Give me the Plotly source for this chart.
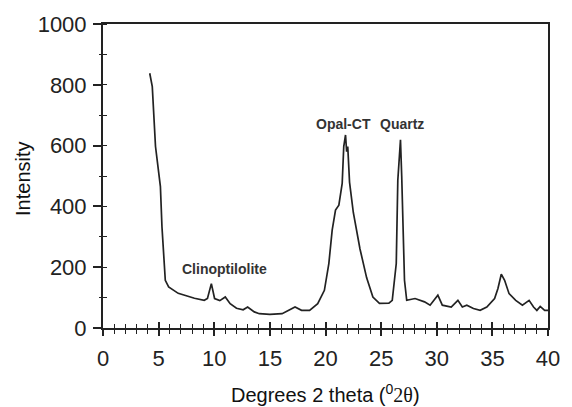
import plotly.graph_objects as go

theta = [4.2, 4.43, 4.72, 5.16, 5.3, 5.45, 5.6, 5.9, 6.76, 8.22, 9.1, 9.39, 9.74, 10.03,
         10.5, 10.99, 11.43, 12.0, 12.6, 13.0, 13.6, 14.05, 15.0, 16.1, 16.8, 17.26, 17.85,
         18.57, 19.3, 19.9, 20.3, 20.6, 20.9, 21.2, 21.5, 21.64, 21.8, 21.9, 22.0, 22.16,
         22.5, 23.1, 23.7, 24.26, 24.85, 25.7, 26.0, 26.36, 26.5, 26.6, 26.74, 26.85, 26.95,
         27.1, 27.3, 28.05, 28.9, 29.4, 30.1, 30.5, 31.3, 31.9, 32.3, 32.7, 33.3, 33.9,
         34.5, 35.2, 35.5, 35.8, 36.1, 36.5, 37.1, 37.7, 38.3, 38.7, 39.0, 39.3, 39.7, 40.0]
intensity = [838, 794, 597, 465, 333, 223, 157, 135, 114, 98, 91, 97, 146, 97,
             90, 102, 80, 65, 60, 69, 53, 47, 45, 47, 60, 69, 58,
             58, 80, 124, 212, 322, 388, 404, 476, 597, 635, 580, 597, 480,
             380, 260, 165, 102, 81, 82, 91, 212, 486, 560, 619, 500, 333,
             157, 91, 97, 86, 75, 108, 75, 69, 91, 69, 75, 64, 58,
             69, 97, 130, 177, 157, 113, 91, 75, 91, 69, 58, 71, 58, 58]

peak_labels = ["Clinoptilolite", "Opal-CT", "Quartz"]
peak_x = [10.9, 21.6, 26.9]
peak_y = [193, 671, 671]

x_ticks = [0, 5, 10, 15, 20, 25, 30, 35, 40]
y_ticks = [0, 200, 400, 600, 800, 1000]

ink = "#222222"
tick_font = dict(family="Liberation Sans, Arial, sans-serif", size=22, color=ink)

fig = go.Figure()
fig.add_trace(go.Scatter(x=theta, y=intensity, mode="lines",
                         line=dict(color=ink, width=1.7), showlegend=False,
                         hoverinfo="skip"))
# invisible trace to activate overlay axes (ticks crossing the axis line)
fig.add_trace(go.Scatter(x=[0, 40], y=[0, 1000], mode="markers", marker=dict(opacity=0),
                         xaxis="x2", yaxis="y2", showlegend=False, hoverinfo="skip"))

for lab, px, py in zip(peak_labels, peak_x, peak_y):
    fig.add_annotation(x=px, y=py, text=lab, showarrow=False,
                       font=dict(family="Liberation Sans, Arial, sans-serif", size=14,
                                 color="#333333", weight="bold"))

fig.add_annotation(xref="paper", yref="paper", x=-0.18, xanchor="center", y=0.49,
                   yanchor="middle", text="Intensity", textangle=-90, showarrow=False,
                   font=dict(family="Liberation Sans, Arial, sans-serif", size=20, color="#111111"))
fig.add_annotation(xref="paper", yref="paper", x=0.5, xanchor="center", y=-0.215,
                   yanchor="middle",
                   text="Degrees 2 theta (<sup>0</sup><span style='font-family:Liberation Serif'>2θ</span>)",
                   showarrow=False,
                   font=dict(family="Liberation Sans, Arial, sans-serif", size=20, color="#111111"))

fig.update_layout(
    width=572, height=407,
    margin=dict(l=103, r=12, t=24, b=79),
    paper_bgcolor="white", plot_bgcolor="white",
    xaxis=dict(range=[0, 40], tickvals=x_ticks, ticks="outside", ticklen=6, tickwidth=1.5,
               tickcolor=ink, showline=True, linecolor=ink, linewidth=2, mirror=True,
               showgrid=False, zeroline=False, tickfont=tick_font, ticklabelstandoff=4,
               minor=dict(dtick=1, ticks="outside", ticklen=4, tickwidth=1.2, tickcolor=ink,
                          showgrid=False)),
    xaxis2=dict(range=[0, 40], overlaying="x", tickvals=x_ticks, ticks="inside", ticklen=6,
                tickwidth=1.5, tickcolor=ink, showticklabels=False, showgrid=False,
                zeroline=False, showline=False,
                minor=dict(dtick=1, ticks="inside", ticklen=4, tickwidth=1.2, tickcolor=ink,
                           showgrid=False)),
    yaxis=dict(range=[0, 1000], tickvals=y_ticks, ticks="outside", ticklen=8, tickwidth=1.5,
               tickcolor=ink, showline=True, linecolor=ink, linewidth=2, mirror=True,
               showgrid=False, zeroline=False, tickfont=tick_font, ticklabelstandoff=2,
               minor=dict(dtick=100, ticks="inside", ticklen=4, tickwidth=1.2, tickcolor=ink,
                          showgrid=False)),
    yaxis2=dict(range=[0, 1000], overlaying="y", tickvals=y_ticks, ticks="",
                showticklabels=False, showgrid=False, zeroline=False, showline=False,
                minor=dict(dtick=100, ticks="outside", ticklen=3, tickwidth=1.2, tickcolor=ink,
                           showgrid=False)),
)

fig.write_html("out.html", config={"displayModeBar": False},
               post_script="document.body.style.margin='0';")
